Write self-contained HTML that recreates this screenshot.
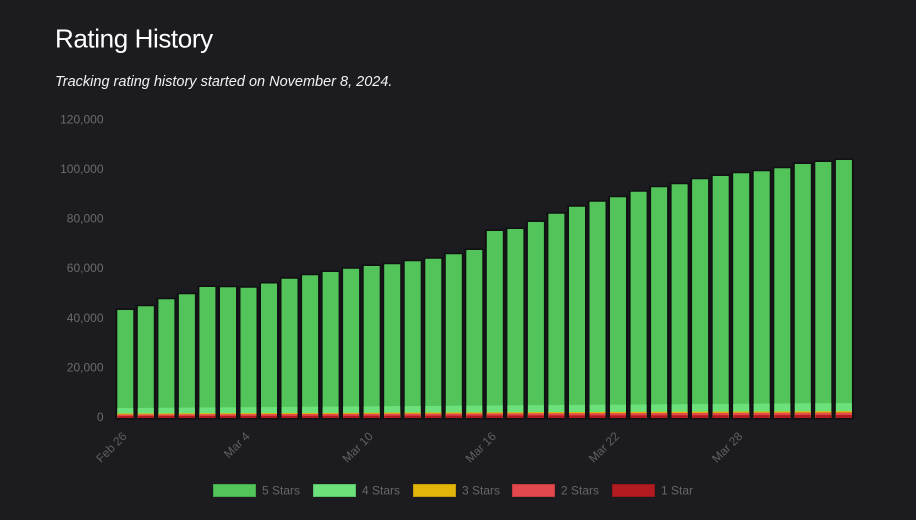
<!DOCTYPE html>
<html>
<head>
<meta charset="utf-8">
<style>
  html,body{margin:0;padding:0;background:#1c1b20;}
  body{width:916px;height:520px;overflow:hidden;position:relative;font-family:"Liberation Sans",sans-serif;}
  svg{position:absolute;left:0;top:0;}
</style>
</head>
<body>
<svg width="916" height="520" viewBox="0 0 916 520" xmlns="http://www.w3.org/2000/svg">
  <rect x="0" y="0" width="916" height="520" fill="#1c1b20"/>
  <text x="55" y="47.5" font-family="Liberation Sans, sans-serif" font-size="26" letter-spacing="-0.4" fill="#ffffff">Rating History</text>
  <text x="55" y="86" font-family="Liberation Sans, sans-serif" font-size="14.5" font-style="italic" fill="#f2f2f2">Tracking rating history started on November 8, 2024.</text>

  <g font-family="Liberation Sans, sans-serif" font-size="12" fill="#6b6b6b" text-anchor="end">
    <text x="103.5" y="123.4">120,000</text>
    <text x="103.5" y="173">100,000</text>
    <text x="103.5" y="222.6">80,000</text>
    <text x="103.5" y="272.2">60,000</text>
    <text x="103.5" y="321.8">40,000</text>
    <text x="103.5" y="371.4">20,000</text>
    <text x="103.5" y="421">0</text>
  </g>

  <defs>
    <clipPath id="bars">
      <rect x="117.3" y="310" width="16" height="108"/>
      <rect x="137.8" y="306.3" width="16" height="111.7"/>
      <rect x="158.4" y="299.2" width="16" height="118.8"/>
      <rect x="178.9" y="294.2" width="16" height="123.8"/>
      <rect x="199.4" y="287" width="16" height="131"/>
      <rect x="220.0" y="287.3" width="16" height="130.7"/>
      <rect x="240.5" y="287.7" width="16" height="130.3"/>
      <rect x="261.0" y="283.5" width="16" height="134.5"/>
      <rect x="281.5" y="278.7" width="16" height="139.3"/>
      <rect x="302.1" y="275.3" width="16" height="142.7"/>
      <rect x="322.6" y="272" width="16" height="146"/>
      <rect x="343.1" y="268.7" width="16" height="149.3"/>
      <rect x="363.7" y="266" width="16" height="152"/>
      <rect x="384.2" y="264.3" width="16" height="153.7"/>
      <rect x="404.7" y="261.3" width="16" height="156.7"/>
      <rect x="425.3" y="258.7" width="16" height="159.3"/>
      <rect x="445.8" y="254.3" width="16" height="163.7"/>
      <rect x="466.3" y="250" width="16" height="168"/>
      <rect x="486.8" y="231" width="16" height="187"/>
      <rect x="507.4" y="229" width="16" height="189"/>
      <rect x="527.9" y="222" width="16" height="196"/>
      <rect x="548.4" y="213.7" width="16" height="204.3"/>
      <rect x="569.0" y="206.7" width="16" height="211.3"/>
      <rect x="589.5" y="201.7" width="16" height="216.3"/>
      <rect x="610.0" y="197.3" width="16" height="220.7"/>
      <rect x="630.6" y="191.7" width="16" height="226.3"/>
      <rect x="651.1" y="187.3" width="16" height="230.7"/>
      <rect x="671.6" y="184.3" width="16" height="233.7"/>
      <rect x="692.1" y="179.3" width="16" height="238.7"/>
      <rect x="712.7" y="176" width="16" height="242"/>
      <rect x="733.2" y="173.3" width="16" height="244.7"/>
      <rect x="753.7" y="171.3" width="16" height="246.7"/>
      <rect x="774.3" y="168.3" width="16" height="249.7"/>
      <rect x="794.8" y="164" width="16" height="254"/>
      <rect x="815.3" y="162" width="16" height="256"/>
      <rect x="835.9" y="160" width="16" height="258"/>
    </clipPath>
  </defs>

  <!-- dark outlines behind bars -->
  <g fill="#111113">
    <rect x="115.3" y="308.5" width="20" height="111"/>
    <rect x="135.8" y="304.8" width="20" height="114.7"/>
    <rect x="156.4" y="297.7" width="20" height="121.8"/>
    <rect x="176.9" y="292.7" width="20" height="126.8"/>
    <rect x="197.4" y="285.5" width="20" height="134"/>
    <rect x="218.0" y="285.8" width="20" height="133.7"/>
    <rect x="238.5" y="286.2" width="20" height="133.3"/>
    <rect x="259.0" y="282" width="20" height="137.5"/>
    <rect x="279.5" y="277.2" width="20" height="142.3"/>
    <rect x="300.1" y="273.8" width="20" height="145.7"/>
    <rect x="320.6" y="270.5" width="20" height="149"/>
    <rect x="341.1" y="267.2" width="20" height="152.3"/>
    <rect x="361.7" y="264.5" width="20" height="155"/>
    <rect x="382.2" y="262.8" width="20" height="156.7"/>
    <rect x="402.7" y="259.8" width="20" height="159.7"/>
    <rect x="423.3" y="257.2" width="20" height="162.3"/>
    <rect x="443.8" y="252.8" width="20" height="166.7"/>
    <rect x="464.3" y="248.5" width="20" height="171"/>
    <rect x="484.8" y="229.5" width="20" height="190"/>
    <rect x="505.4" y="227.5" width="20" height="192"/>
    <rect x="525.9" y="220.5" width="20" height="199"/>
    <rect x="546.4" y="212.2" width="20" height="207.3"/>
    <rect x="567.0" y="205.2" width="20" height="214.3"/>
    <rect x="587.5" y="200.2" width="20" height="219.3"/>
    <rect x="608.0" y="195.8" width="20" height="223.7"/>
    <rect x="628.6" y="190.2" width="20" height="229.3"/>
    <rect x="649.1" y="185.8" width="20" height="233.7"/>
    <rect x="669.6" y="182.8" width="20" height="236.7"/>
    <rect x="690.1" y="177.8" width="20" height="241.7"/>
    <rect x="710.7" y="174.5" width="20" height="245"/>
    <rect x="731.2" y="171.8" width="20" height="247.7"/>
    <rect x="751.7" y="169.8" width="20" height="249.7"/>
    <rect x="772.3" y="166.8" width="20" height="252.7"/>
    <rect x="792.8" y="162.5" width="20" height="257"/>
    <rect x="813.3" y="160.5" width="20" height="259"/>
    <rect x="833.9" y="158.5" width="20" height="261"/>
  </g>

  <!-- stacked segments clipped to bars -->
  <g clip-path="url(#bars)">
    <rect x="100" y="150" width="770" height="270" fill="#52c459"/>
    <polygon points="100,408.2 870,402.9 870,420 100,420" fill="#6ce07b"/>
    <polygon points="100,413.6 870,411.1 870,420 100,420" fill="#e3b50a"/>
    <polygon points="100,414.6 870,412.4 870,420 100,420" fill="#e3484c"/>
    <polygon points="100,416.1 870,415 870,420 100,420" fill="#b21b1f"/>
  </g>

  <!-- x labels -->
  <g font-family="Liberation Sans, sans-serif" font-size="12" fill="#606060" text-anchor="end">
    <text transform="translate(127.5,437) rotate(-45)">Feb 26</text>
    <text transform="translate(250.5,437) rotate(-45)">Mar 4</text>
    <text transform="translate(373.7,437) rotate(-45)">Mar 10</text>
    <text transform="translate(496.8,437) rotate(-45)">Mar 16</text>
    <text transform="translate(620,437) rotate(-45)">Mar 22</text>
    <text transform="translate(743.2,437) rotate(-45)">Mar 28</text>
  </g>

  <!-- legend -->
  <g>
    <rect x="213.5" y="484.5" width="42" height="12" fill="#52c459" stroke="#45a84c" stroke-width="1"/>
    <rect x="313.5" y="484.5" width="42" height="12" fill="#6ce07b" stroke="#5cc26a" stroke-width="1"/>
    <rect x="413.5" y="484.5" width="42" height="12" fill="#e3b50a" stroke="#c49c08" stroke-width="1"/>
    <rect x="512.5" y="484.5" width="42" height="12" fill="#e3484c" stroke="#c23d41" stroke-width="1"/>
    <rect x="612.5" y="484.5" width="42" height="12" fill="#b21b1f" stroke="#96171a" stroke-width="1"/>
  </g>
  <g font-family="Liberation Sans, sans-serif" font-size="12" fill="#676767">
    <text x="262" y="494.5">5 Stars</text>
    <text x="362" y="494.5">4 Stars</text>
    <text x="462" y="494.5">3 Stars</text>
    <text x="561" y="494.5">2 Stars</text>
    <text x="661" y="494.5">1 Star</text>
  </g>
</svg>
</body>
</html>
